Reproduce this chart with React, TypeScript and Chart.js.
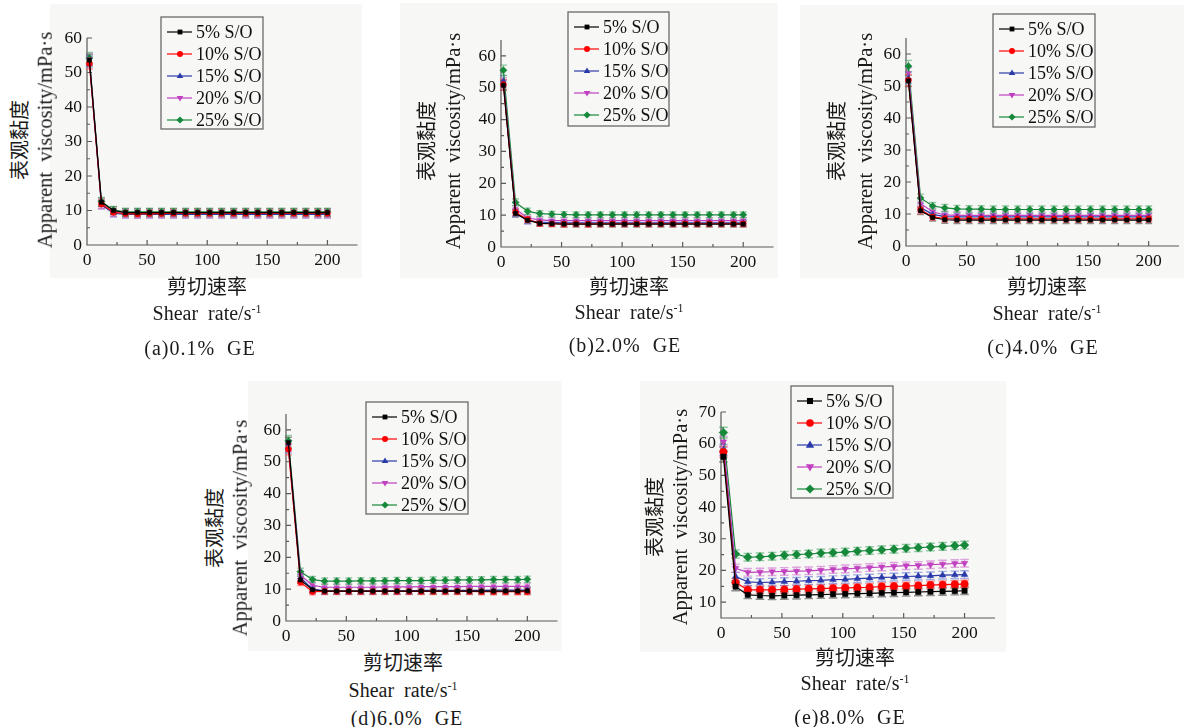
import React, { useEffect, useRef } from 'react';
import { Chart, registerables } from 'chart.js';

Chart.register(...registerables);

// ---------------- DATA ----------------
const shearRate = [2, 12, 22, 32, 42, 52, 62, 72, 82, 92, 102, 112, 122, 132, 142, 152, 162, 172, 182, 192, 200];
const seriesLabels = ['5% S/O', '10% S/O', '15% S/O', '20% S/O', '25% S/O'];
const xTickValues = [0, 50, 100, 150, 200];
const yTicks60 = [0, 10, 20, 30, 40, 50, 60];
const yTicks70 = [10, 20, 30, 40, 50, 60, 70];

// (a) 0.1% GE
const a5 = [53.6, 12.4, 10.0, 9.4, 9.4, 9.4, 9.4, 9.4, 9.4, 9.4, 9.4, 9.4, 9.4, 9.4, 9.4, 9.4, 9.4, 9.4, 9.4, 9.4, 9.4];
const a10 = [52.6, 11.9, 9.5, 9.1, 9.0, 9.1, 9.1, 9.2, 9.2, 9.2, 9.2, 9.2, 9.2, 9.2, 9.2, 9.2, 9.2, 9.2, 9.2, 9.2, 9.2];
const a15 = [53.2, 11.6, 9.2, 8.9, 8.9, 8.9, 8.9, 8.9, 8.9, 8.9, 8.9, 8.9, 8.9, 8.9, 8.9, 8.9, 8.9, 8.9, 8.9, 8.9, 8.9];
const a20 = [53.9, 11.8, 9.4, 9.0, 9.0, 9.0, 9.0, 9.0, 9.0, 9.0, 9.0, 9.0, 9.0, 9.0, 9.0, 9.0, 9.0, 9.0, 9.0, 9.0, 9.0];
const a25 = [54.2, 12.6, 10.1, 9.6, 9.6, 9.6, 9.6, 9.6, 9.6, 9.6, 9.6, 9.6, 9.6, 9.6, 9.6, 9.6, 9.6, 9.6, 9.6, 9.6, 9.6];
const errA = [1.6, 1.2, 1.1, 1.1, 1.1, 1.1, 1.1, 1.1, 1.1, 1.1, 1.1, 1.1, 1.1, 1.1, 1.1, 1.1, 1.1, 1.1, 1.1, 1.1, 1.1];

// (b) 2.0% GE
const b5 = [50.8, 10.5, 8.4, 7.4, 7.3, 7.2, 7.2, 7.2, 7.2, 7.2, 7.2, 7.2, 7.2, 7.2, 7.2, 7.2, 7.2, 7.2, 7.2, 7.2, 7.2];
const b10 = [51.0, 10.9, 8.6, 7.4, 7.3, 7.2, 7.3, 7.2, 7.3, 7.3, 7.3, 7.3, 7.3, 7.3, 7.3, 7.3, 7.3, 7.3, 7.3, 7.3, 7.3];
const b15 = [52.2, 10.7, 8.3, 7.8, 7.7, 7.6, 7.6, 7.6, 7.6, 7.6, 7.6, 7.6, 7.6, 7.6, 7.6, 7.6, 7.6, 7.6, 7.6, 7.6, 7.6];
const b20 = [51.6, 11.9, 9.1, 8.5, 8.3, 8.3, 8.3, 8.3, 8.3, 8.3, 8.3, 8.3, 8.3, 8.3, 8.3, 8.3, 8.3, 8.3, 8.3, 8.3, 8.3];
const b25 = [55.5, 14.0, 11.2, 10.5, 10.3, 10.2, 10.1, 10.1, 10.1, 10.1, 10.1, 10.1, 10.1, 10.1, 10.1, 10.1, 10.1, 10.1, 10.1, 10.1, 10.1];
const errB = [1.6, 1.1, 1.0, 0.9, 0.9, 0.9, 0.9, 0.9, 0.9, 0.9, 0.9, 0.9, 0.9, 0.9, 0.9, 0.9, 0.9, 0.9, 0.9, 0.9, 0.9];

// (c) 4.0% GE
const c5 = [51.6, 11.0, 8.9, 8.2, 8.1, 8.1, 8.1, 8.1, 8.1, 8.1, 8.1, 8.1, 8.1, 8.1, 8.1, 8.1, 8.1, 8.1, 8.1, 8.1, 8.1];
const c10 = [51.8, 11.3, 9.1, 8.6, 8.5, 8.5, 8.5, 8.5, 8.5, 8.5, 8.5, 8.5, 8.5, 8.5, 8.5, 8.5, 8.5, 8.5, 8.5, 8.5, 8.5];
const c15 = [52.6, 12.0, 9.9, 9.2, 9.1, 9.1, 9.1, 9.1, 9.1, 9.1, 9.1, 9.1, 9.1, 9.1, 9.1, 9.1, 9.1, 9.1, 9.1, 9.1, 9.1];
const c20 = [54.0, 13.2, 10.7, 9.7, 9.6, 9.6, 9.6, 9.6, 9.6, 9.6, 9.6, 9.6, 9.6, 9.6, 9.6, 9.6, 9.6, 9.6, 9.6, 9.6, 9.6];
const c25 = [56.2, 15.0, 12.5, 11.9, 11.6, 11.5, 11.5, 11.4, 11.4, 11.4, 11.4, 11.4, 11.4, 11.4, 11.4, 11.4, 11.4, 11.4, 11.4, 11.4, 11.4];
const errC = [1.8, 1.2, 1.1, 1.1, 1.1, 1.1, 1.1, 1.1, 1.1, 1.1, 1.1, 1.1, 1.1, 1.1, 1.1, 1.1, 1.1, 1.1, 1.1, 1.1, 1.1];

// (d) 6.0% GE
const d5 = [56.0, 12.9, 9.8, 9.4, 9.4, 9.4, 9.4, 9.4, 9.4, 9.4, 9.4, 9.4, 9.4, 9.4, 9.4, 9.4, 9.4, 9.4, 9.4, 9.4, 9.5];
const d10 = [53.9, 12.2, 9.2, 9.3, 9.3, 9.3, 9.3, 9.3, 9.3, 9.3, 9.3, 9.3, 9.3, 9.3, 9.3, 9.3, 9.2, 9.2, 9.2, 9.2, 9.2];
const d15 = [54.5, 13.6, 10.0, 9.5, 9.5, 9.5, 9.5, 9.5, 9.5, 9.5, 9.5, 9.6, 9.6, 9.6, 9.6, 9.6, 9.6, 9.7, 9.7, 9.7, 9.7];
const d20 = [55.0, 14.4, 11.2, 10.6, 10.6, 10.6, 10.6, 10.6, 10.7, 10.7, 10.7, 10.8, 10.8, 10.8, 10.8, 10.9, 10.9, 10.9, 10.9, 10.9, 10.9];
const d25 = [56.6, 15.5, 13.0, 12.5, 12.5, 12.5, 12.6, 12.6, 12.6, 12.7, 12.7, 12.7, 12.8, 12.8, 12.9, 12.9, 12.9, 13.0, 13.0, 13.0, 13.1];
const errD = [1.7, 1.1, 1.0, 1.0, 1.0, 1.0, 1.0, 1.0, 1.0, 1.0, 1.0, 1.0, 1.0, 1.0, 1.0, 1.0, 1.0, 1.0, 1.0, 1.0, 1.0];

// (e) 8.0% GE
const e5 = [55.9, 14.9, 12.3, 12.1, 12.0, 12.1, 12.2, 12.3, 12.4, 12.5, 12.6, 12.7, 12.8, 12.9, 13.0, 13.1, 13.2, 13.3, 13.4, 13.5, 13.6];
const e10 = [57.4, 16.2, 13.9, 13.9, 13.9, 14.0, 14.1, 14.2, 14.3, 14.4, 14.5, 14.6, 14.7, 14.9, 15.0, 15.1, 15.2, 15.4, 15.5, 15.6, 15.7];
const e15 = [58.0, 18.1, 16.4, 16.2, 16.3, 16.5, 16.6, 16.8, 16.9, 17.1, 17.2, 17.4, 17.6, 17.8, 17.9, 18.1, 18.2, 18.3, 18.5, 18.6, 18.7];
const e20 = [60.6, 20.7, 19.4, 19.5, 19.6, 19.7, 19.8, 19.9, 20.1, 20.3, 20.5, 20.7, 20.9, 21.1, 21.3, 21.5, 21.6, 21.8, 22.0, 22.2, 22.3];
const e25 = [63.5, 25.2, 24.2, 24.3, 24.5, 24.8, 25.0, 25.2, 25.5, 25.6, 25.8, 26.1, 26.3, 26.5, 26.7, 27.0, 27.2, 27.4, 27.6, 27.8, 28.0];
const errE = [1.7, 1.3, 1.2, 1.2, 1.2, 1.2, 1.2, 1.2, 1.2, 1.2, 1.2, 1.2, 1.2, 1.2, 1.2, 1.2, 1.2, 1.2, 1.2, 1.2, 1.2];

// ---------------- STYLE ----------------
const SERIF = '"Liberation Serif", "Times New Roman", "Noto Sans CJK SC", serif';
const seriesStyle = [
  { color: '#000000', err: 'rgba(70,70,70,0.6)', style: 'rect', rot: 0 },
  { color: '#ff0000', err: 'rgba(255,80,80,0.6)', style: 'circle', rot: 0 },
  { color: '#2a3aa8', err: 'rgba(90,110,210,0.55)', style: 'triangle', rot: 0 },
  { color: '#c040c0', err: 'rgba(205,110,205,0.6)', style: 'triangle', rot: 180 },
  { color: '#16883a', err: 'rgba(60,160,90,0.55)', style: 'rectRot', rot: 0 },
];

type Panel = {
  series: number[][];
  err: number[];
  yMin: number; yMax: number; yTicks: number[];
  bg: number[]; area: number[]; legend: number[];
  radius: number;
  yTitle: number[]; xTitle: number[]; caption: number[]; captionText: string;
};

const panels: Panel[] = [
  { series: [a5, a10, a15, a20, a25], err: errA, yMin: 0, yMax: 60, yTicks: yTicks60,
    bg: [50, 4, 362, 278], area: [87, 38, 360, 245], legend: [161, 17, 263, 129], radius: 3,
    yTitle: [20, 45, 140], xTitle: [207, 287, 313], caption: [200, 348], captionText: '(a)0.1%  GE' },
  { series: [b5, b10, b15, b20, b25], err: errB, yMin: 0, yMax: 65, yTicks: yTicks60,
    bg: [400, 3, 778, 278], area: [501, 40, 775, 247], legend: [568, 12, 669, 126], radius: 3,
    yTitle: [427, 453, 141], xTitle: [629, 287, 312], caption: [625, 345], captionText: '(b)2.0%  GE' },
  { series: [c5, c10, c15, c20, c25], err: errC, yMin: 0, yMax: 65, yTicks: yTicks60,
    bg: [800, 5, 1184, 278], area: [906, 38, 1179, 246], legend: [993, 14, 1095, 127], radius: 3,
    yTitle: [837, 865, 141], xTitle: [1047, 287, 313], caption: [1043, 347], captionText: '(c)4.0%  GE' },
  { series: [d5, d10, d15, d20, d25], err: errD, yMin: 0, yMax: 65, yTicks: yTicks60,
    bg: [248, 381, 562, 651], area: [286, 414, 558, 621], legend: [366, 402, 468, 514], radius: 3,
    yTitle: [215, 240, 528], xTitle: [403, 663, 690], caption: [407, 718], captionText: '(d)6.0%  GE' },
  { series: [e5, e10, e15, e20, e25], err: errE, yMin: 5, yMax: 70, yTicks: yTicks70,
    bg: [640, 381, 1006, 652], area: [721, 412, 995, 618], legend: [791, 386, 893, 498], radius: 3.8,
    yTitle: [655, 680, 517], xTitle: [855, 658, 683], caption: [850, 717], captionText: '(e)8.0%  GE' },
];

// ---------------- PLUGINS ----------------
const axesPlugin = {
  id: 'sciAxes',
  beforeDatasetsDraw(chart: any) {
    const { ctx, chartArea, scales } = chart;
    const { left, right, top, bottom } = chartArea;
    const x = scales.x, y = scales.y;
    ctx.save();
    ctx.strokeStyle = '#5a5a5a';
    ctx.lineWidth = 1.2;
    ctx.beginPath();
    ctx.moveTo(left, top);
    ctx.lineTo(left, bottom);
    ctx.lineTo(right, bottom);
    ctx.stroke();
    const xt = x.ticks.map((t: any) => t.value);
    ctx.beginPath();
    xt.forEach((v: number, i: number) => {
      const px = x.getPixelForValue(v);
      if (i > 0) { ctx.moveTo(px, bottom); ctx.lineTo(px, bottom - 5); }
      if (i < xt.length - 1) {
        const mx = x.getPixelForValue((v + xt[i + 1]) / 2);
        ctx.moveTo(mx, bottom); ctx.lineTo(mx, bottom - 3);
      }
    });
    const yt = y.ticks.map((t: any) => t.value);
    yt.forEach((v: number, i: number) => {
      const py = y.getPixelForValue(v);
      if (v > y.min) { ctx.moveTo(left, py); ctx.lineTo(left + 5, py); }
      if (i < yt.length - 1) {
        const my = y.getPixelForValue((v + yt[i + 1]) / 2);
        ctx.moveTo(left, my); ctx.lineTo(left + 3, my);
      }
    });
    ctx.stroke();
    // error bars
    chart.data.datasets.forEach((ds: any, i: number) => {
      const meta = chart.getDatasetMeta(i);
      ctx.strokeStyle = ds.errorColor;
      ctx.lineWidth = 1.4;
      ctx.beginPath();
      meta.data.forEach((pt: any, j: number) => {
        const val = ds.data[j].y;
        const e = ds.errors[j];
        const y1 = y.getPixelForValue(val + e);
        const y2 = y.getPixelForValue(val - e);
        const cw = ds.capWidth;
        ctx.moveTo(pt.x, y1); ctx.lineTo(pt.x, y2);
        ctx.moveTo(pt.x - cw, y1); ctx.lineTo(pt.x + cw, y1);
        ctx.moveTo(pt.x - cw, y2); ctx.lineTo(pt.x + cw, y2);
      });
      ctx.stroke();
    });
    ctx.restore();
  },
};

function drawMarker(ctx: CanvasRenderingContext2D, style: string, rot: number, r: number, x: number, y: number) {
  ctx.beginPath();
  if (style === 'rect') {
    const s = r * 1.6;
    ctx.rect(x - s / 2, y - s / 2, s, s);
  } else if (style === 'circle') {
    ctx.arc(x, y, r, 0, Math.PI * 2);
  } else if (style === 'triangle') {
    const d = rot === 180 ? -1 : 1;
    ctx.moveTo(x, y - d * r * 1.2);
    ctx.lineTo(x + r * 1.1, y + d * r * 0.7);
    ctx.lineTo(x - r * 1.1, y + d * r * 0.7);
    ctx.closePath();
  } else {
    ctx.moveTo(x, y - r * 1.2);
    ctx.lineTo(x + r * 1.2, y);
    ctx.lineTo(x, y + r * 1.2);
    ctx.lineTo(x - r * 1.2, y);
    ctx.closePath();
  }
  ctx.fill();
}

const legendPlugin = {
  id: 'boxLegend',
  afterDatasetsDraw(chart: any, _args: any, opts: any) {
    const ctx = chart.ctx;
    ctx.save();
    ctx.strokeStyle = '#6a6a6a';
    ctx.lineWidth = 1.3;
    ctx.strokeRect(opts.x, opts.y, opts.w, opts.h);
    chart.data.datasets.forEach((ds: any, i: number) => {
      const cy = opts.y + 15 + i * 22;
      ctx.strokeStyle = ds.borderColor;
      ctx.lineWidth = 1.2;
      ctx.beginPath();
      ctx.moveTo(opts.x + 6, cy);
      ctx.lineTo(opts.x + 31, cy);
      ctx.stroke();
      ctx.fillStyle = ds.borderColor;
      drawMarker(ctx, ds.pointStyle, ds.pointRotation, opts.radius, opts.x + 19, cy);
      ctx.fillStyle = '#111';
      ctx.font = '18px ' + SERIF;
      ctx.textBaseline = 'middle';
      ctx.textAlign = 'left';
      ctx.fillText(ds.label, opts.x + 35, cy + 1);
    });
    ctx.restore();
  },
};

// ---------------- COMPONENTS ----------------
function PanelChart({ p }: { p: Panel }) {
  const ref = useRef<HTMLCanvasElement>(null);
  const [bl, bt, br, bb] = p.bg;
  const [al, at, ar, ab] = p.area;
  useEffect(() => {
    const tickFont = { family: SERIF, size: 17.5 };
    const chart = new Chart(ref.current as HTMLCanvasElement, {
      type: 'line',
      data: {
        datasets: p.series.map((vals, i) => ({
          label: seriesLabels[i],
          data: shearRate.map((x, j) => ({ x, y: vals[j] })),
          borderColor: seriesStyle[i].color,
          backgroundColor: seriesStyle[i].color,
          pointStyle: seriesStyle[i].style,
          pointRotation: seriesStyle[i].rot,
          pointRadius: seriesStyle[i].style === 'rectRot' ? p.radius + 0.6 : p.radius,
          pointBorderWidth: 0.5,
          borderWidth: 1.2,
          tension: 0,
          errors: p.err,
          errorColor: seriesStyle[i].err,
          capWidth: p.radius + 0.5,
        })) as any,
      },
      options: {
        animation: false,
        responsive: false,
        devicePixelRatio: 1,
        clip: false as any,
        layout: { padding: { left: 0, top: at - bt, right: br - ar, bottom: 0 } },
        scales: {
          x: {
            type: 'linear', min: 0, max: 225,
            afterBuildTicks: (s: any) => { s.ticks = xTickValues.map((v) => ({ value: v })); },
            afterFit: (s: any) => { s.height = bb - ab; },
            grid: { display: false, drawTicks: false },
            border: { display: false },
            ticks: { padding: 5, font: tickFont, color: '#111', maxRotation: 0, autoSkip: false },
          },
          y: {
            type: 'linear', min: p.yMin, max: p.yMax,
            afterBuildTicks: (s: any) => { s.ticks = p.yTicks.map((v) => ({ value: v })); },
            afterFit: (s: any) => { s.width = al - bl; },
            grid: { display: false, drawTicks: false },
            border: { display: false },
            ticks: { padding: 5, font: tickFont, color: '#111', autoSkip: false },
          },
        },
        plugins: {
          legend: { display: false },
          tooltip: { enabled: false },
          boxLegend: { x: p.legend[0] - bl, y: p.legend[1] - bt, w: p.legend[2] - p.legend[0], h: p.legend[3] - p.legend[1], radius: p.radius },
        } as any,
      },
      plugins: [axesPlugin, legendPlugin],
    });
    return () => chart.destroy();
  }, []);
  return (
    <>
      <div style={{ position: 'absolute', left: bl, top: bt, width: br - bl, height: bb - bt, background: '#f7f7f6' }} />
      <canvas ref={ref} width={br - bl} height={bb - bt} style={{ position: 'absolute', left: bl, top: bt }} />
    </>
  );
}

function Txt({ x, y, rot, size, children }: any) {
  return (
    <div style={{
      position: 'absolute', left: x, top: y, transform: `translate(-50%, -50%)${rot ? ' rotate(-90deg)' : ''}`,
      fontFamily: SERIF, fontSize: size, lineHeight: 1, whiteSpace: 'pre', color: '#1a1a1a',
    }}>{children}</div>
  );
}

function Titles({ p }: { p: Panel }) {
  return (
    <>
      <Txt x={p.yTitle[0]} y={p.yTitle[2]} rot size={20}>表观黏度</Txt>
      <Txt x={p.yTitle[1]} y={p.yTitle[2]} rot size={20.5}>Apparent  viscosity/mPa·s</Txt>
      <Txt x={p.xTitle[0]} y={p.xTitle[1]} size={20}>剪切速率</Txt>
      <Txt x={p.xTitle[0]} y={p.xTitle[2]} size={20}>Shear  rate/s<sup style={{ fontSize: 12, verticalAlign: '7px' }}>-1</sup></Txt>
      <Txt x={p.caption[0]} y={p.caption[1]} size={20}><span style={{ letterSpacing: 1 }}>{p.captionText}</span></Txt>
    </>
  );
}

export default function App() {
  return (
    <div style={{ position: 'fixed', left: 0, top: 0, width: 1184, height: 727, background: '#ffffff', overflow: 'hidden' }}>
      {panels.map((p, i) => <PanelChart key={'c' + i} p={p} />)}
      {panels.map((p, i) => <Titles key={'t' + i} p={p} />)}
    </div>
  );
}
